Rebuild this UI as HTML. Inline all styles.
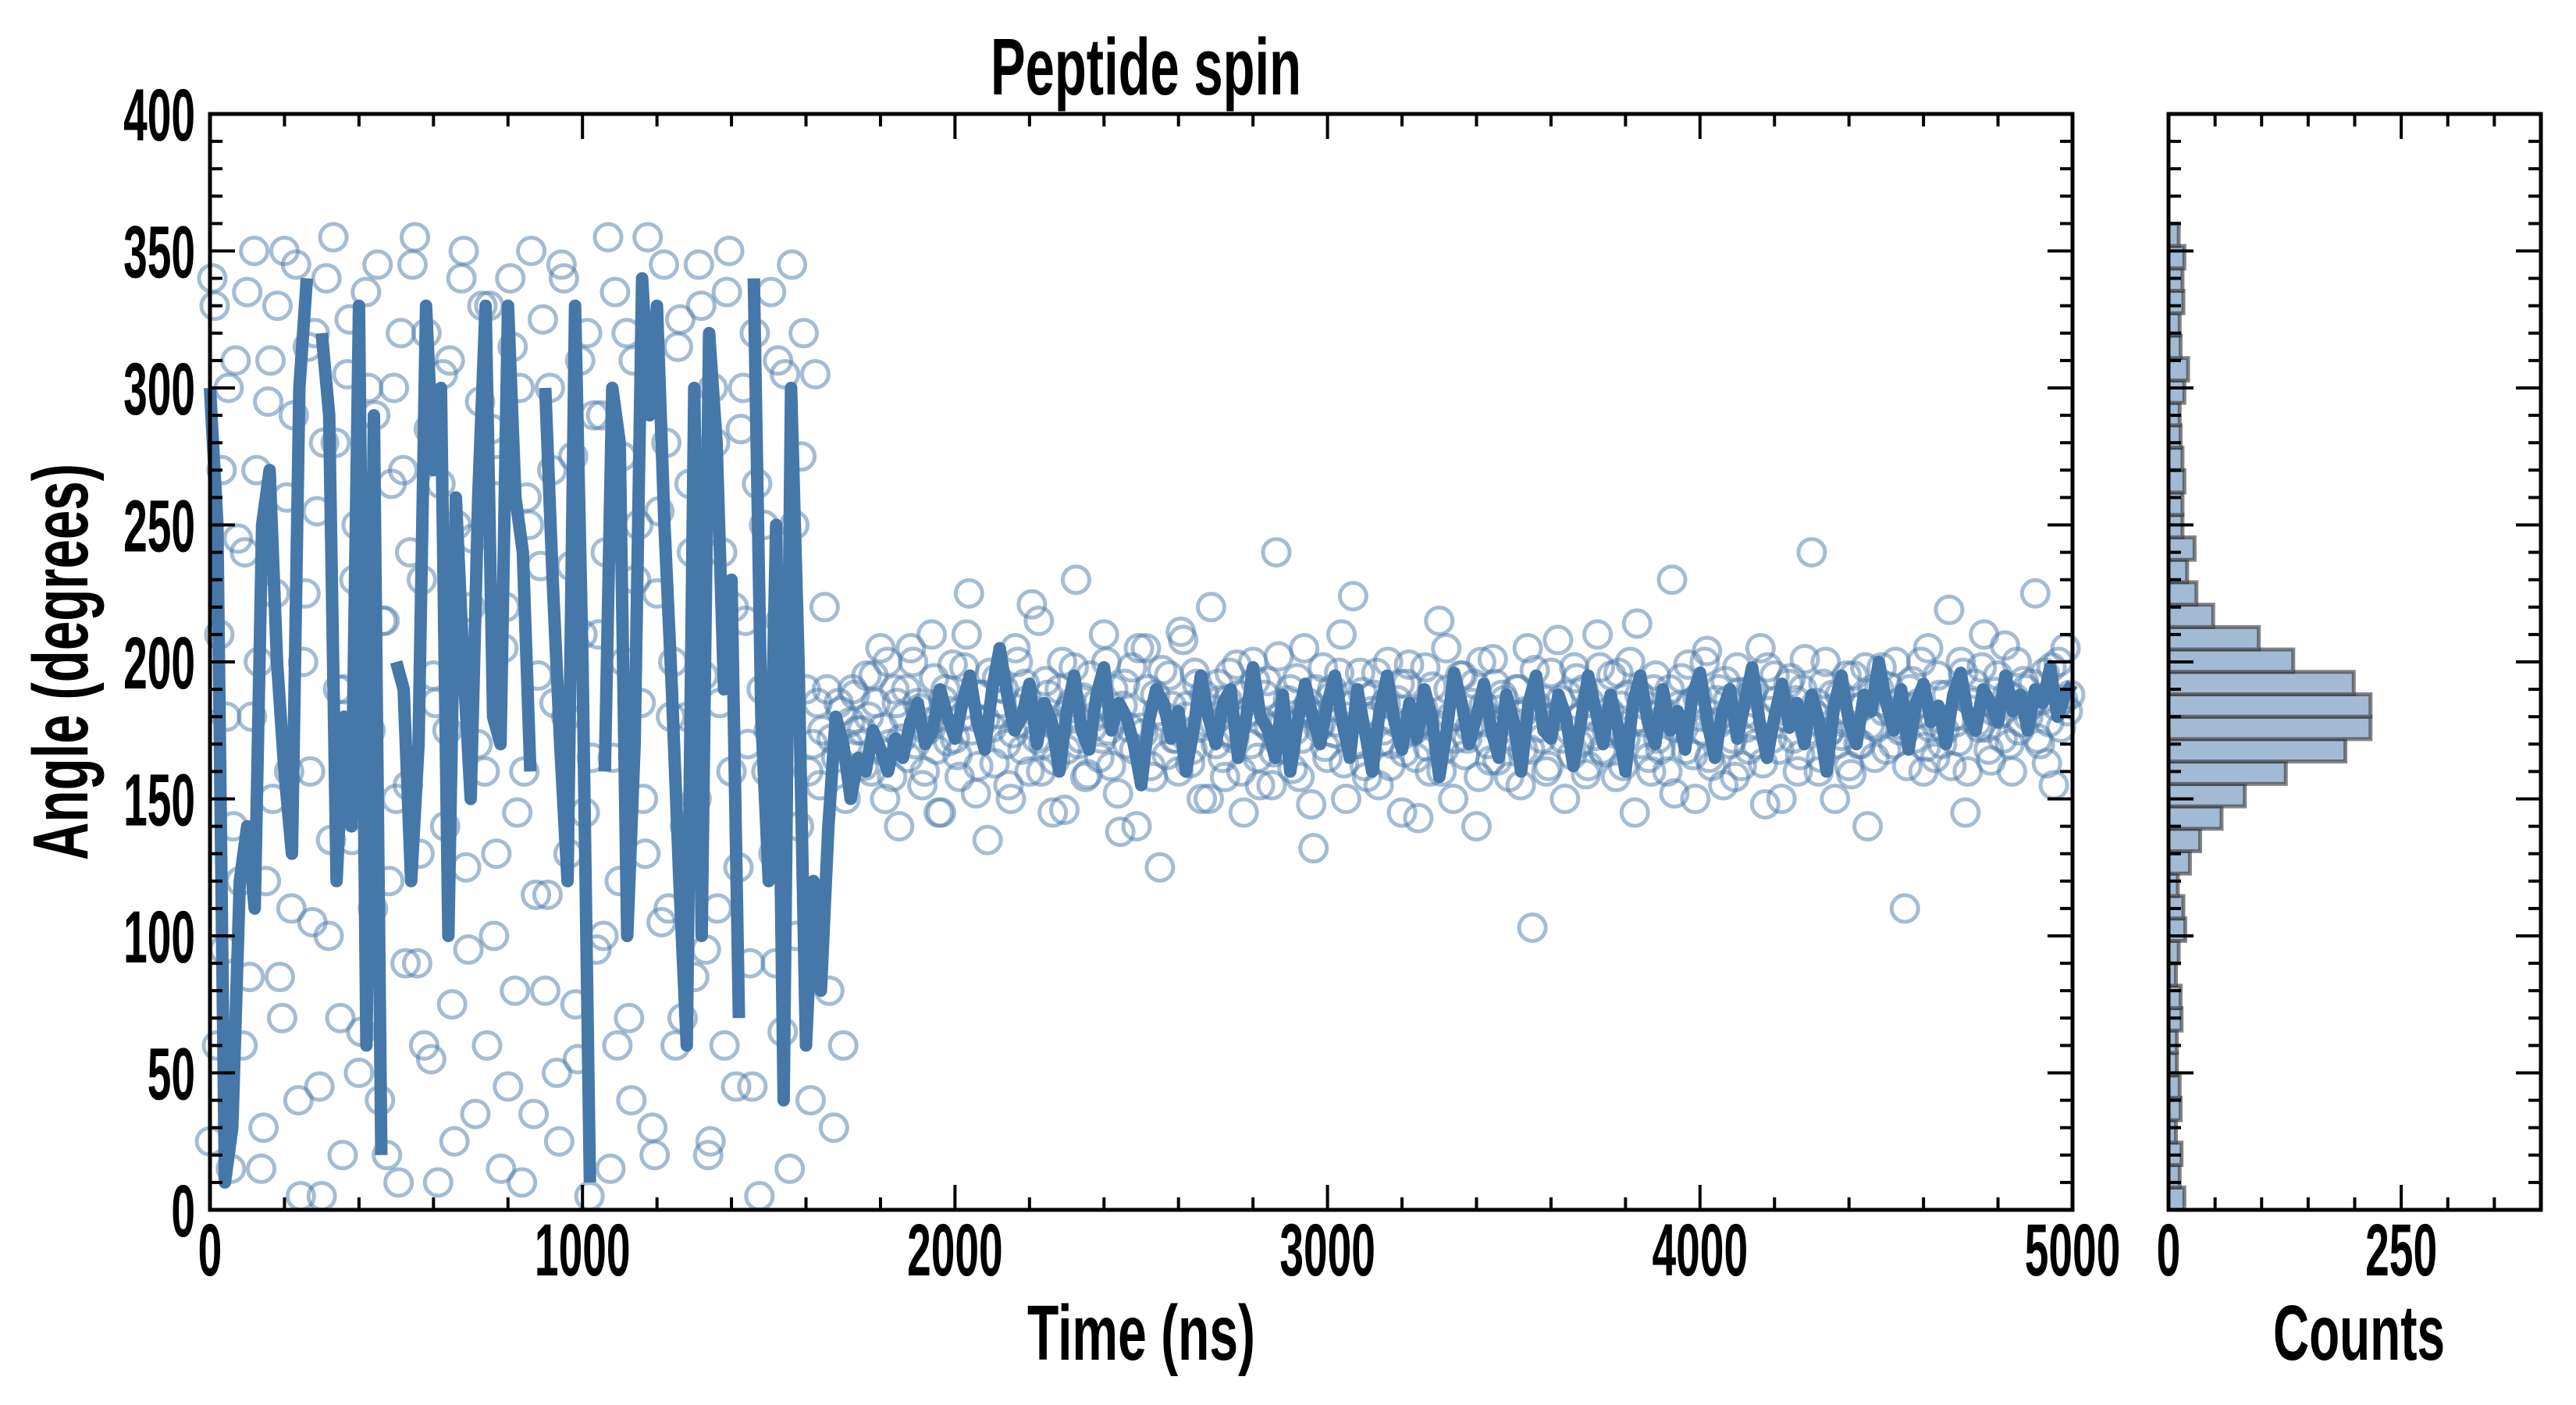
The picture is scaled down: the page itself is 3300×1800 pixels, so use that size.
<!DOCTYPE html>
<html><head><meta charset="utf-8"><style>
html,body{margin:0;padding:0;background:#fff;}
svg{display:block;}
text{font-family:"Liberation Sans",sans-serif;font-weight:bold;fill:#000;}
</style></head>
<body>
<svg id="chart" width="3300" height="1800" viewBox="0 0 3300 1800" xmlns="http://www.w3.org/2000/svg">
<rect width="3300" height="1800" fill="#fff"/>
<g id="main"></g>
<g id="hist"></g>
<g id="labels"></g>
</svg>
<script>
// ---- data ----
const scatterAngle = [
25,330,210,95,300,140,245,60,335,180,
270,15,120,310,225,85,350,160,290,40,
200,315,105,255,5,340,135,280,70,190,
325,230,50,170,300,110,345,215,20,265,
150,320,90,240,355,130,60,285,195,10,
305,175,75,250,340,125,220,35,295,160,
330,100,270,205,45,315,145,10,260,350,
115,235,80,300,185,25,340,130,275,55,
210,320,165,95,290,240,15,335,120,200,
70,310,250,150,355,30,225,105,280,180,
60,325,140,265,85,345,195,20,300,110,
240,335,160,45,285,215,90,320,5,250,
175,130,310,65,230,345,100,275,190,40,
305,155,220,80,30,185,60,170,190,175,
175,195,160,185,205,150,170,190,140,180,
165,200,185,155,175,210,168,145,190,182,
172,158,198,225,180,162,188,135,176,194,
185,170,150,205,178,192,160,182,215,170,
188,145,176,200,168,185,230,172,158,195,
180,165,210,175,190,152,184,170,198,140,
176,205,162,188,125,180,195,172,160,208,
184,168,192,150,178,220,170,186,158,196,
172,188,145,182,200,165,178,193,155,240,
180,168,190,175,158,205,185,132,176,198,
165,190,178,210,150,184,170,196,162,180,
188,155,175,200,170,186,145,192,178,165,
182,198,160,176,215,168,190,150,180,195,
172,185,140,200,178,164,192,175,186,158,
178,190,168,205,103,184,172,160,196,180,
186,150,175,198,170,190,162,180,210,168,
175,195,158,184,172,200,145,188,178,165,
190,172,182,160,230,176,194,168,185,150,
180,200,165,178,190,155,186,172,198,162,
176,188,170,205,148,182,195,168,180,192,
172,160,190,178,240,185,165,200,175,150,
188,178,162,195,170,184,140,190,176,198,
168,182,200,175,110,190,172,185,160,205,
180,195,170,188,162,178,200,145,186,192,
176,210,168,182,195,172,188,160,200,178,
190,184,225,170,196,178,155,200,186,182];
const scatterAngleB = [
340,60,270,180,15,310,120,240,85,350,
200,30,295,150,330,70,260,110,345,5,
225,160,320,45,280,100,355,190,20,305,
135,250,65,335,175,290,40,215,120,300,
10,270,155,345,90,230,320,55,185,265,
140,310,25,205,350,95,245,170,330,60,
285,130,15,220,340,80,300,160,250,35,
195,325,115,270,50,345,180,235,75,310,
145,5,290,210,100,355,165,60,275,320,
40,230,185,130,300,20,255,345,110,200,
315,70,180,240,150,330,95,25,280,185,
60,350,220,125,300,170,45,265,190,160,
335,90,215,305,15,250,140,320,160,170,
185,175,190,172,165,182,150,178,188,170,
162,180,195,168,176,200,158,185,172,190,
205,170,183,160,178,194,145,186,171,199,
166,180,210,175,152,188,179,196,163,181,
190,155,174,200,168,186,221,172,160,193,
178,164,190,146,183,198,170,187,159,176,
185,172,200,162,180,138,192,176,168,205,
174,190,158,182,197,166,184,172,211,180,
163,196,176,188,150,178,192,165,186,174,
199,160,181,170,193,155,188,176,167,202,
178,186,161,194,172,183,148,190,177,169,
187,174,196,163,180,224,170,189,158,182,
196,171,185,162,178,192,167,199,175,143,
183,169,191,177,160,205,180,172,195,166,
176,192,158,184,170,201,164,188,179,173,
190,155,182,168,197,176,186,162,180,208,
172,188,166,194,180,159,185,173,198,167,
182,174,196,162,188,178,214,170,184,160,
195,168,180,190,152,184,176,199,166,187,
175,204,162,186,178,193,170,158,189,181,
168,190,180,163,198,172,186,150,182,194,
186,166,201,175,181,160,192,174,188,170,
173,195,159,183,170,198,177,165,190,182,
191,170,185,177,162,193,181,200,169,176,
165,188,175,219,180,171,196,160,185,178,
198,176,164,189,181,206,170,187,175,193,
180,192,172,186,163,198,184,176,205,188];
const lineAngle = [
300,250,10,30,120,140,110,250,270,200,
160,130,300,340,null,320,290,120,180,140,
330,60,290,20,null,200,190,120,170,330,
270,300,100,260,200,150,260,330,180,170,
330,260,240,160,null,300,230,170,120,330,
200,10,null,160,300,280,100,170,340,290,
330,250,190,120,60,300,100,320,280,190,
230,70,null,340,180,120,250,40,300,200,
60,120,80,140,180,170,150,165,160,175,
168,160,172,165,178,185,170,175,190,180,
172,185,195,178,168,190,205,188,175,180,
192,170,185,178,160,182,195,175,168,188,
198,175,185,180,170,155,178,190,185,172,
182,160,175,195,180,170,185,190,165,178,
198,180,175,165,188,160,178,192,180,170,
185,195,178,165,190,175,160,182,195,178,
168,185,172,190,180,158,175,196,185,170,
180,192,175,165,188,178,160,185,195,175,
172,188,180,162,178,195,182,170,188,176,
160,185,195,178,170,190,175,182,168,188,
196,178,165,182,190,172,185,198,178,165,
180,192,176,185,170,188,178,160,184,195,
178,170,188,182,200,185,175,190,168,185,
192,178,184,170,188,196,180,175,190,185,
178,195,182,188,175,190,185,198,180,188,
192];
const histCounts = [17,12,14,8,13,12,9,9,14,13,8,11,18,16,10,23,34,57,82,126,190,217,217,199,134,97,48,30,20,28,15,15,17,15,13,12,17,21,13,12,16,15,17,11];
const xTickLabels = ["0","1000","2000","3000","4000","5000"];
const yTickLabels = ["0","50","100","150","200","250","300","350","400"];
const histTickLabels = ["0","250"];

// ---- layout ----
const NS = "http://www.w3.org/2000/svg";
const L = 269, R = 2655, T = 146, B = 1550;
const HL = 2778, HR = 3255;
const tMax = 5000, aMax = 400, cMax = 400, binMax = 360;
const xS = t => L + (t / tMax) * (R - L);
const yS = a => B - (a / aMax) * (B - T);
const hxS = c => HL + (c / cMax) * (HR - HL);
const main = document.getElementById('main');
const hist = document.getElementById('hist');
const labels = document.getElementById('labels');
function mk(tag, attrs, parent) {
  const e = document.createElementNS(NS, tag);
  for (const k in attrs) e.setAttribute(k, attrs[k]);
  parent.appendChild(e);
  return e;
}
function txt(s, x, y, size, anchor, sx, parent) {
  const e = mk('text', {transform: `translate(${x},${y}) scale(${sx},1)`, 'font-size': size, 'text-anchor': anchor}, parent);
  e.textContent = s;
  return e;
}

// scatter
const sg = mk('g', {}, main);


function drawScatter(arr, offset) {
  const n = arr.length;
  const step = tMax / n;
  arr.forEach((a, i) => {
    const c = mk('circle', {cx: xS(i * step + offset * step), cy: yS(a), r: 17, fill: 'none', stroke: '#4a7aaa', 'stroke-opacity': 0.5, 'stroke-width': 5}, sg);
    
    
  });
}
drawScatter(scatterAngle, 0);
drawScatter(scatterAngleB, 0.5);

// line (null = break)
const nL = lineAngle.length;
let d = '', pen = false;
lineAngle.forEach((a, i) => {
  if (a === null) { pen = false; return; }
  d += (pen ? 'L' : 'M') + xS(i * tMax / (nL - 1)).toFixed(1) + ',' + yS(a).toFixed(1);
  pen = true;
});
const ln = mk('path', {d: d, fill: 'none', stroke: '#4577a9', 'stroke-width': 16, 'stroke-linejoin': 'round'}, main);



// histogram
const bw = binMax / histCounts.length;
histCounts.forEach((c, i) => {
  const y1 = yS((i + 1) * bw), y0 = yS(i * bw);
  const r = mk('rect', {x: HL, y: y1, width: hxS(c) - HL, height: y0 - y1, fill: '#a2bad4', stroke: '#333', 'stroke-opacity': 0.6, 'stroke-width': 5}, hist);
  
  
});

// frames and ticks
function frame(x0, x1, parent, name) {
  const f = mk('rect', {x: x0, y: T, width: x1 - x0, height: B - T, fill: 'none', stroke: '#000', 'stroke-width': 5}, parent);
  
  
}
function tick(x1, y1, x2, y2, parent) {
  mk('line', {x1, y1, x2, y2, stroke: '#000', 'stroke-width': 4}, parent);
}
frame(L, R, main, 'main-axes-frame');
frame(HL, HR, hist, 'histogram-axes-frame');
for (let a = 0; a <= aMax; a += 10) {
  const len = a % 50 === 0 ? 32 : 16, y = yS(a);
  tick(L, y, L + len, y, main); tick(R, y, R - len, y, main);
  tick(HL, y, HL + len, y, hist); tick(HR, y, HR - len, y, hist);
}
for (let t = 0; t <= tMax; t += 200) {
  const len = t % 1000 === 0 ? 32 : 16, x = xS(t);
  tick(x, B, x, B - len, main); tick(x, T, x, T + len, main);
}
for (let c = 0; c <= cMax; c += 50) {
  const len = c % 250 === 0 ? 32 : 16, x = hxS(c);
  tick(x, B, x, B - len, hist); tick(x, T, x, T + len, hist);
}

// tick labels
yTickLabels.forEach((s, i) => {
  const e = txt(s, 250, yS(i * 50) + 34, 95, 'end', 0.58, labels);
  
  
});
xTickLabels.forEach((s, i) => {
  const e = txt(s, xS(i * 1000), 1634, 95, 'middle', 0.58, labels);
  
  
});
histTickLabels.forEach((s, i) => {
  const e = txt(s, hxS(i * 250), 1634, 95, 'middle', 0.58, labels);
  
  
});
</script>
<script>
(function(){
  const NS = "http://www.w3.org/2000/svg";
  const labels = document.getElementById('labels');
  function t(s, x, y, size, len, rot) {
    const e = document.createElementNS(NS, 'text');
    e.setAttribute('x', x); e.setAttribute('y', y);
    e.setAttribute('font-size', size);
    e.setAttribute('text-anchor', 'middle');
    e.setAttribute('textLength', len);
    e.setAttribute('lengthAdjust', 'spacingAndGlyphs');
    if (rot) e.setAttribute('transform', rot);
    e.textContent = s;
    labels.appendChild(e);
    return e;
  }
  const title = t('Peptide spin', 1468, 121, 103, 398);
  
  
  const xl = t('Time (ns)', 1462, 1742, 100, 292);
  
  
  const cl = t('Counts', 3022, 1742, 100, 220);
  
  
  const yl = t('Angle (degrees)', 0, 0, 100, 508, 'translate(112,848) rotate(-90)');
  
  
})();
</script>
</body></html>
